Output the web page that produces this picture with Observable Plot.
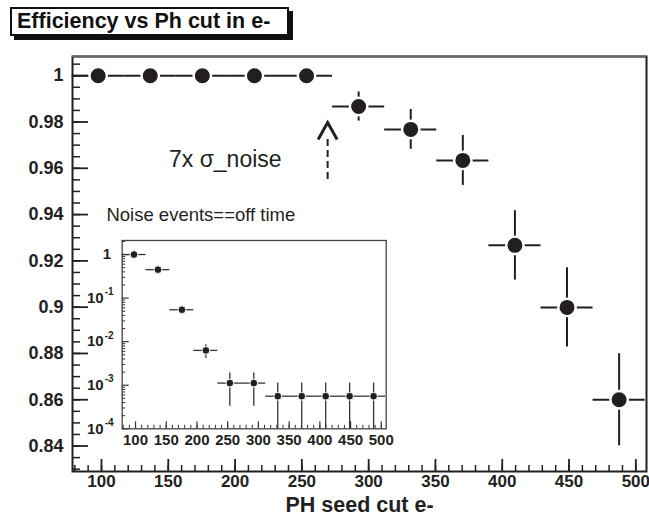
<!DOCTYPE html>
<html><head><meta charset="utf-8">
<script src="https://cdn.jsdelivr.net/npm/d3@7"></script>
<script src="https://cdn.jsdelivr.net/npm/@observablehq/plot@0.6"></script>
<style>
body{margin:0;background:#fff;}
#wrap{position:relative;width:649px;height:523px;font-family:"Liberation Sans",Arial,sans-serif;}
#main{position:absolute;left:0;top:0;}
#inset{position:absolute;left:80px;top:230px;}
#title{position:absolute;left:10px;top:7px;width:270px;height:25px;border:2px solid #111;box-shadow:4px 4px 0 #111;background:#fff;font-weight:bold;font-size:21.5px;line-height:25px;padding-left:5px;color:#111;white-space:nowrap;}
</style></head>
<body>
<div id="wrap"><div id="main"></div><div id="inset"></div><div id="title">Efficiency vs Ph cut in e-</div></div>
<script>
// ---- data ----
const cuts = [97.5, 136.5, 175.5, 214.5, 253.5, 292.5, 331.5, 370.5, 409.5, 448.5, 487.5];
const binHalfWidth = 19.5;
const efficiency = [1, 1, 1, 1, 1, 0.9867, 0.9768, 0.9634, 0.9267, 0.8999, 0.860];
const efficiencyErr = [0, 0, 0, 0, 0, 0.0063, 0.0086, 0.0108, 0.015, 0.0171, 0.0199];
const noiseRate = [1.0, 0.45, 0.054, 0.0063, 0.00112, 0.00112, 0.00056, 0.00056, 0.00056, 0.00056, 0.00056];
const noiseHigh = [1.0, 0.45, 0.054, 0.0085, 0.0019, 0.0019, 0.00112, 0.00112, 0.00112, 0.00112, 0.00112];
const noiseLow  = [1.0, 0.45, 0.054, 0.0041, 0.00033, 0.00033, 0.0001, 0.0001, 0.0001, 0.0001, 0.0001];
const xTickLabels = [100, 150, 200, 250, 300, 350, 400, 450, 500];
const yTickLabels = [0.84, 0.86, 0.88, 0.9, 0.92, 0.94, 0.96, 0.98, 1];
const insetYTickLabels = [1e-4, 1e-3, 1e-2, 1e-1, 1];
const sigmaNote = {text: "7x \u03c3_noise", x: 150.5, y: 0.9637};
const noiseNote = {text: "Noise events==off time", x: 103.7, y: 0.940};
const arrowTip = {x: 269.3, y: 0.9798};
const arrowShaft = {x: 269.3, y1: 0.9552, y2: 0.9733};

const xDomain = [78.3, 508];
const yDomain = [0.829, 1.0083];
const ink = "#231f20";

// ---- main plot ----
const W = 649, H = 523, mL = 72, mT = 56, mR = 3, mB = 52;
const pw = W - mL - mR, ph = H - mT - mB;
const rows = cuts.map((c, i) => ({c, lo: c - binHalfWidth, hi: c + binHalfWidth,
  e: efficiency[i], el: efficiency[i] - efficiencyErr[i], eh: efficiency[i] + efficiencyErr[i]}));
const xMinor = d3.range(8, 51).map(i => i * 10);
const yMinor = d3.range(166, 202).map(i => +(i * 0.005).toFixed(3));
const chevron = {draw(ctx) { ctx.moveTo(-9.5, 17); ctx.lineTo(0, 0); ctx.lineTo(9.5, 17); }};

const main = Plot.plot({
  width: W, height: H, marginLeft: mL, marginTop: mT, marginRight: mR, marginBottom: mB,
  x: {domain: xDomain}, y: {domain: yDomain},
  style: {fontFamily: "'Liberation Sans', Arial, sans-serif", background: "white", color: ink, overflow: "visible"},
  marks: [
    Plot.tickX(xMinor, {x: d => d, insetTop: ph - 6, stroke: ink, strokeWidth: 1.5}),
    Plot.tickX(xTickLabels, {x: d => d, insetTop: ph - 12, stroke: ink, strokeWidth: 1.8}),
    Plot.tickY(yMinor, {y: d => d, insetRight: pw - 8, stroke: ink, strokeWidth: 1.5}),
    Plot.tickY(yTickLabels, {y: d => d, insetRight: pw - 16, stroke: ink, strokeWidth: 1.8}),
    Plot.axisX(xTickLabels, {tickSize: 0, tickPadding: 3, fontSize: 17, fontWeight: "bold", label: null, tickFormat: d => String(d)}),
    Plot.axisY(yTickLabels, {tickSize: 0, tickPadding: 9, fontSize: 18, fontWeight: "bold", label: null, tickFormat: d => String(d)}),
    Plot.text(["PH seed cut e-"], {frameAnchor: "bottom", dy: 40, fontSize: 21.5, fontWeight: "bold", fill: ink}),
    Plot.frame({stroke: ink, strokeWidth: 2}),
    Plot.ruleY([yDomain[1]], {stroke: "#666", strokeWidth: 2}),
    Plot.ruleY(rows, {y: "e", x1: "lo", x2: "hi", stroke: ink, strokeWidth: 2}),
    Plot.ruleX(rows.filter(d => d.eh > d.el), {x: "c", y1: "el", y2: "eh", stroke: ink, strokeWidth: 2}),
    Plot.dot(rows, {x: "c", y: "e", r: 8.7, fill: ink, stroke: "white", strokeWidth: 2.4}),
    Plot.text([sigmaNote], {x: "x", y: "y", text: "text", textAnchor: "start", fontSize: 23, fill: ink}),
    Plot.text([noiseNote], {x: "x", y: "y", text: "text", textAnchor: "start", fontSize: 18.5, fill: ink}),
    Plot.ruleX([arrowShaft], {x: "x", y1: "y1", y2: "y2", stroke: ink, strokeWidth: 2, strokeDasharray: "7,4"}),
    Plot.dot([arrowTip], {x: "x", y: "y", symbol: chevron, fill: "none", stroke: ink, strokeWidth: 3, r: 5})
  ]
});
document.getElementById("main").append(main);

// ---- inset ----
const iW = 320, iH = 225, imL = 41.7, imT = 10, imR = 14.3, imB = 26.7;
const ipw = iW - imL - imR, iph = iH - imT - imB;
const irows = cuts.map((c, i) => ({c, lo: c - binHalfWidth, hi: c + binHalfWidth,
  v: noiseRate[i], vl: noiseLow[i], vh: noiseHigh[i]}));
const iyMinor = [];
for (let k = -4; k <= 0; k++) for (let m = 2; m <= 9; m++) { const v = m * Math.pow(10, k); if (v <= 2.1) iyMinor.push(v); }

const inset = Plot.plot({
  width: iW, height: iH, marginLeft: imL, marginTop: imT, marginRight: imR, marginBottom: imB,
  x: {domain: xDomain}, y: {type: "log", domain: [1e-4, 2.1], axis: null},
  style: {fontFamily: "'Liberation Sans', Arial, sans-serif", background: "transparent", color: ink, overflow: "visible"},
  marks: [
    Plot.frame({fill: "white", stroke: "none"}),
    Plot.tickX(xMinor, {x: d => d, insetTop: iph - 3.5, stroke: "#333", strokeWidth: 1}),
    Plot.tickX(xTickLabels, {x: d => d, insetTop: iph - 7, stroke: "#333", strokeWidth: 1.2}),
    Plot.tickY(iyMinor, {y: d => d, insetRight: ipw - 3.5, stroke: "#333", strokeWidth: 1}),
    Plot.tickY(insetYTickLabels, {y: d => d, insetRight: ipw - 7, stroke: "#333", strokeWidth: 1.2}),
    Plot.axisX(xTickLabels, {tickSize: 0, tickPadding: 6, fontSize: 15, fontWeight: "bold", label: null, tickFormat: d => String(d)}),
    Plot.text(insetYTickLabels.filter(d => d === 1), {y: d => d, text: () => "1", frameAnchor: "left",
      dx: -11, textAnchor: "end", fontSize: 15, fontWeight: "bold", fill: ink}),
    Plot.text(insetYTickLabels.filter(d => d < 1), {y: d => d, text: () => "10", frameAnchor: "left",
      dx: -18.5, textAnchor: "end", fontSize: 15, fontWeight: "bold", fill: ink}),
    Plot.text(insetYTickLabels.filter(d => d < 1), {y: d => d, text: d => String(Math.round(Math.log10(d))), frameAnchor: "left",
      dx: -17.5, dy: -6, textAnchor: "start", fontSize: 10, fontWeight: "bold", fill: ink}),
    Plot.frame({stroke: "#444", strokeWidth: 1.3}),
    Plot.ruleY(irows, {y: "v", x1: "lo", x2: "hi", stroke: "#333", strokeWidth: 1.3}),
    Plot.ruleX(irows, {x: "c", y1: "vl", y2: "vh", stroke: "#333", strokeWidth: 1.3}),
    Plot.dot(irows, {x: "c", y: "v", r: 3.9, fill: ink, stroke: "white", strokeWidth: 1})
  ]
});
document.getElementById("inset").append(inset);
</script>
</body></html>
